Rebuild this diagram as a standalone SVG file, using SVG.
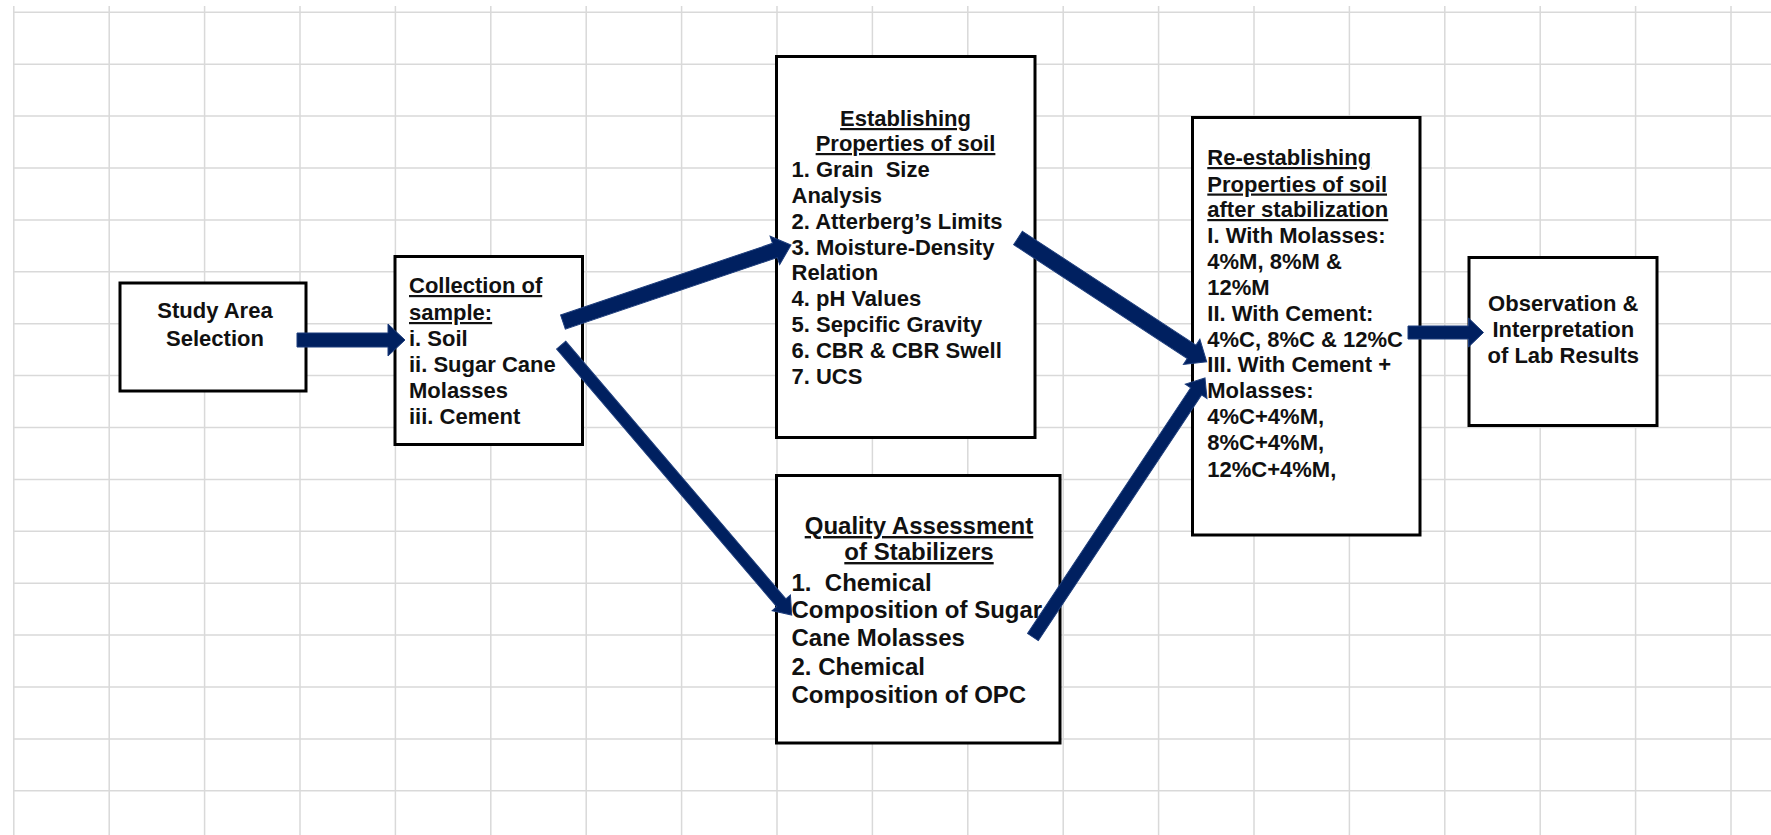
<svg xmlns="http://www.w3.org/2000/svg" width="1771" height="835" viewBox="0 0 1771 835">
<style>
.grid{stroke:#d9d9d9;stroke-width:1.5;fill:none}
.box{fill:#ffffff;stroke:#000000;stroke-width:3}
.t{font-family:"Liberation Sans",Arial,sans-serif;font-weight:bold;font-size:22px;fill:#111111}
.c{text-anchor:middle}
.u{text-decoration:underline}
.h24{font-size:24px}
.arr{fill:#002060;stroke:#1d3d7c;stroke-width:1;stroke-linejoin:miter}
</style>
<rect x="0" y="0" width="1771" height="835" fill="#ffffff"/>
<g id="grid">
<path class="grid" d="M13.8 6V835M109.2 6V835M204.6 6V835M300 6V835M395.4 6V835M490.8 6V835M586.2 6V835M681.6 6V835M777 6V835M872.4 6V835M967.8 6V835M1063.2 6V835M1158.6 6V835M1254 6V835M1349.4 6V835M1444.8 6V835M1540.2 6V835M1635.6 6V835M1731 6V835"/>
<path class="grid" d="M13.8 12.3H1771M13.8 64.2H1771M13.8 116.1H1771M13.8 168H1771M13.8 219.9H1771M13.8 271.8H1771M13.8 323.7H1771M13.8 375.6H1771M13.8 427.5H1771M13.8 479.4H1771M13.8 531.3H1771M13.8 583.2H1771M13.8 635.1H1771M13.8 687H1771M13.8 738.9H1771M13.8 790.8H1771"/>
</g>
<g id="node-study-area">
<rect class="box" x="120" y="283" width="186" height="108"/>
<text class="t c" x="215" y="318">Study Area</text>
<text class="t c" x="215" y="346">Selection</text>
</g>
<g id="node-collection">
<rect class="box" x="395" y="256.5" width="187.5" height="188"/>
<text class="t u" x="409" y="293">Collection of</text>
<text class="t u" x="409" y="320">sample:</text>
<text class="t" x="409" y="346">i. Soil</text>
<text class="t" x="409" y="372">ii. Sugar Cane</text>
<text class="t" x="409" y="398">Molasses</text>
<text class="t" x="409" y="424">iii. Cement</text>
</g>
<g id="node-establishing">
<rect class="box" x="776.5" y="56.5" width="258.5" height="381"/>
<text class="t c u" x="905.5" y="126">Establishing</text>
<text class="t c u" x="905.5" y="151">Properties of soil</text>
<text class="t" x="791.5" y="177" xml:space="preserve">1. Grain  Size</text>
<text class="t" x="791.5" y="203">Analysis</text>
<text class="t" x="791.5" y="228.5">2. Atterberg’s Limits</text>
<text class="t" x="791.5" y="254.5">3. Moisture-Density</text>
<text class="t" x="791.5" y="280">Relation</text>
<text class="t" x="791.5" y="306">4. pH Values</text>
<text class="t" x="791.5" y="332">5. Sepcific Gravity</text>
<text class="t" x="791.5" y="358">6. CBR &amp; CBR Swell</text>
<text class="t" x="791.5" y="384">7. UCS</text>
</g>
<g id="node-quality">
<rect class="box" x="776.5" y="475.5" width="283.5" height="267.5"/>
<text class="t c u h24" x="919" y="534">Quality Assessment</text>
<text class="t c u h24" x="919" y="560">of Stabilizers</text>
<text class="t h24" x="791.5" y="591" xml:space="preserve">1.  Chemical</text>
<text class="t h24" x="791.5" y="618">Composition of Sugar</text>
<text class="t h24" x="791.5" y="646">Cane Molasses</text>
<text class="t h24" x="791.5" y="675">2. Chemical</text>
<text class="t h24" x="791.5" y="703">Composition of OPC</text>
</g>
<g id="node-reestablishing">
<rect class="box" x="1192.5" y="117.5" width="227.5" height="417.5"/>
<text class="t u" x="1207.3" y="165">Re-establishing</text>
<text class="t u" x="1207.3" y="191.5">Properties of soil</text>
<text class="t u" x="1207.3" y="217">after stabilization</text>
<text class="t" x="1207.3" y="243.3">I. With Molasses:</text>
<text class="t" x="1207.3" y="268.5">4%M, 8%M &amp;</text>
<text class="t" x="1207.3" y="295">12%M</text>
<text class="t" x="1207.3" y="320.5">II. With Cement:</text>
<text class="t" x="1207.3" y="346.7">4%C, 8%C &amp; 12%C</text>
<text class="t" x="1207.3" y="372">III. With Cement +</text>
<text class="t" x="1207.3" y="398.3">Molasses:</text>
<text class="t" x="1207.3" y="423.5">4%C+4%M,</text>
<text class="t" x="1207.3" y="450">8%C+4%M,</text>
<text class="t" x="1207.3" y="476.5">12%C+4%M,</text>
</g>
<g id="node-observation">
<rect class="box" x="1469" y="257.5" width="188" height="168"/>
<text class="t c" x="1563.3" y="310.7">Observation &amp;</text>
<text class="t c" x="1563.3" y="336.7">Interpretation</text>
<text class="t c" x="1563.3" y="362.7">of Lab Results</text>
</g>
<g id="connectors">
<polygon class="arr" transform="translate(405,340)" points="-108,-7 -17,-7 -17,-16 0,0 -17,16 -17,7 -108,7"/>
<polygon class="arr" transform="translate(791,245) rotate(-18.66)" points="-240.7,-7.5 -17,-7.5 -17,-15 0,0 -17,15 -17,7.5 -240.7,7.5"/>
<polygon class="arr" transform="translate(791.7,615) rotate(49.5)" points="-355,-6 -16,-6 -16,-12 0,0 -16,12 -16,6 -355,6"/>
<polygon class="arr" transform="translate(1206.7,361.7) rotate(33.25)" points="-225.6,-8 -18,-8 -18,-15 0,0 -18,15 -18,8 -225.6,8"/>
<polygon class="arr" transform="translate(1205,378) rotate(-56.4)" points="-311,-6.5 -16,-6.5 -16,-13 0,0 -16,13 -16,6.5 -311,6.5"/>
<polygon class="arr" transform="translate(1483.5,332.5)" points="-75.5,-6.5 -15,-6.5 -15,-14.5 0,0 -15,14.5 -15,6.5 -75.5,6.5"/>
</g>
</svg>
